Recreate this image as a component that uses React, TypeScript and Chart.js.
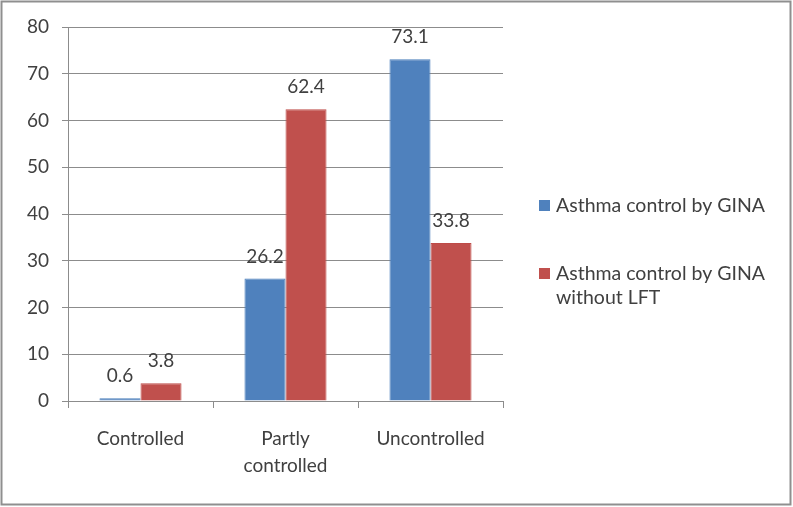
import React, { useEffect, useRef } from "react";
import { Chart, registerables } from "chart.js";

Chart.register(...registerables);

const categories: (string | string[])[] = ["Controlled", ["Partly", "controlled"], "Uncontrolled"];
const seriesNames: string[][] = [["Asthma control by GINA"], ["Asthma control by GINA", "without LFT"]];
const ginaValues = [0.6, 26.2, 73.1];
const ginaNoLftValues = [3.8, 62.4, 33.8];
const yTicks = [0, 10, 20, 30, 40, 50, 60, 70, 80];

const BLUE = "#4F81BD";
const RED = "#C0504D";
const TEXT = "#404040";
const GRID = "#8C8C8C";
const FONT = "Lato, 'Open Sans', sans-serif";

export default function App() {
  const ref = useRef<HTMLCanvasElement | null>(null);

  useEffect(() => {
    if (!ref.current) return;

    const frame = {
      id: "frame",
      beforeDraw(chart: any) {
        const ctx = chart.ctx;
        ctx.save();
        ctx.fillStyle = "#ffffff";
        ctx.fillRect(0, 0, chart.width, chart.height);
        ctx.restore();
      },
      afterDraw(chart: any) {
        const ctx = chart.ctx;
        ctx.save();
        ctx.strokeStyle = "#8f8f8f";
        ctx.lineWidth = 2;
        ctx.strokeRect(1.5, 1.5, chart.width - 4, chart.height - 4);
        // legend
        const colors = [BLUE, RED];
        const ys = [206, 274];
        ctx.font = `19.5px ${FONT}`;
        ctx.textBaseline = "middle";
        ctx.textAlign = "left";
        seriesNames.forEach((lines, i) => {
          ctx.fillStyle = colors[i];
          ctx.fillRect(539, ys[i] - 6, 11, 11);
          ctx.fillStyle = TEXT;
          lines.forEach((ln, j) => ctx.fillText(ln, 556, ys[i] + j * 24));
        });
        ctx.restore();
      },
    };

    const valueLabels = {
      id: "valueLabels",
      afterDatasetsDraw(chart: any) {
        const ctx = chart.ctx;
        ctx.save();
        ctx.font = `19px ${FONT}`;
        ctx.fillStyle = TEXT;
        ctx.textAlign = "center";
        ctx.textBaseline = "middle";
        chart.data.datasets.forEach((ds: any, di: number) => {
          const meta = chart.getDatasetMeta(di);
          meta.data.forEach((el: any, i: number) => {
            ctx.fillText(String(ds.data[i]), el.x, el.y - 22);
          });
        });
        ctx.restore();
      },
    };

    const chart = new Chart(ref.current, {
      type: "bar",
      data: {
        labels: categories as any,
        datasets: [
          {
            label: seriesNames[0].join(" "),
            data: ginaValues,
            backgroundColor: BLUE,
            borderColor: "#4A7EBB",
            borderWidth: 1,
            categoryPercentage: 0.566,
            barPercentage: 1,
          },
          {
            label: seriesNames[1].join(" "),
            data: ginaNoLftValues,
            backgroundColor: RED,
            borderColor: "#BE4B48",
            borderWidth: 1,
            categoryPercentage: 0.566,
            barPercentage: 1,
          },
        ],
      },
      options: {
        animation: false,
        responsive: false,
        maintainAspectRatio: false,
        layout: { padding: { left: 0, right: 290, top: 27, bottom: 0 } },
        plugins: {
          legend: { display: false },
          tooltip: { enabled: false },
          title: { display: false },
        },
        scales: {
          x: {
            offset: true,
            grid: {
              offset: true,
              drawOnChartArea: false,
              drawTicks: true,
              tickLength: 7,
              color: GRID,
            },
            border: { display: true, color: GRID, width: 1 },
            ticks: {
              color: TEXT,
              font: { family: FONT, size: 19, lineHeight: 1.4 },
              padding: 18,
              maxRotation: 0,
              autoSkip: false,
            },
            afterFit(scale: any) {
              scale.height = 106;
            },
          },
          y: {
            min: 0,
            max: 80,
            afterBuildTicks(scale: any) {
              scale.ticks = yTicks.map((v) => ({ value: v }));
            },
            grid: { color: GRID, tickLength: 6, drawTicks: true },
            border: { display: true, color: GRID, width: 1 },
            ticks: {
              color: TEXT,
              font: { family: FONT, size: 19 },
              padding: 13,
            },
            afterFit(scale: any) {
              scale.width = 68;
            },
          },
        },
      },
      plugins: [frame, valueLabels],
    });

    return () => chart.destroy();
  }, []);

  return (
    <div style={{ position: "fixed", left: 0, top: 0, width: 793, height: 507, background: "#fff" }}>
      <canvas ref={ref} width={793} height={507} style={{ width: 793, height: 507, display: "block" }} />
    </div>
  );
}
